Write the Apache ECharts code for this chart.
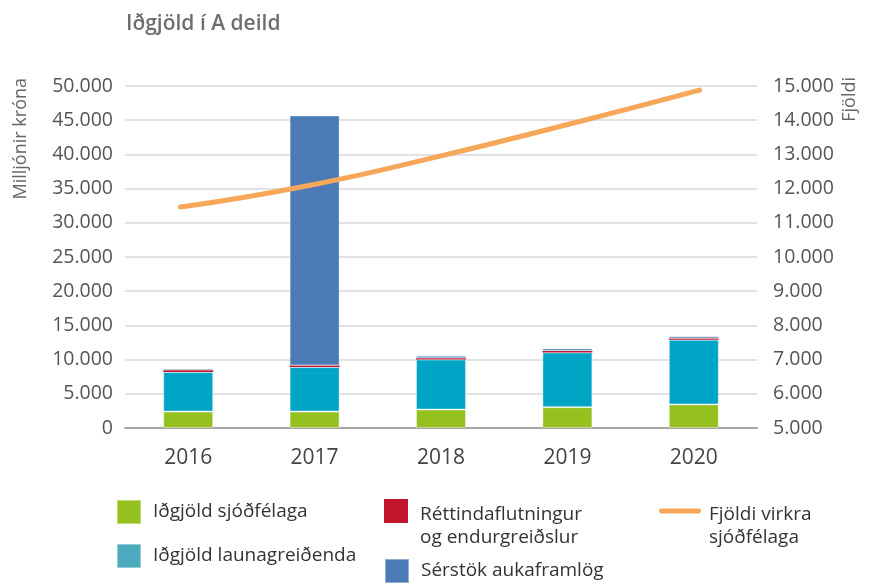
<!DOCTYPE html>
<html>
<head>
<meta charset="utf-8">
<script src="https://cdn.jsdelivr.net/npm/echarts@6/dist/echarts.min.js"></script>
<style>
  html, body { margin: 0; padding: 0; background: #fff; }
  #main { width: 871px; height: 583px; }
</style>
</head>
<body>
<div id="main"></div>
<script>
var years = ['2016', '2017', '2018', '2019', '2020'];
// milljónir króna
var sjodfelaga = [2400, 2400, 2700, 3050, 3450];
var launagreidenda = [5800, 6500, 7300, 8000, 9450];
var rettindaflutningur = [250, 250, 200, 200, 200];
var serstok = [250, 36550, 350, 370, 320];
// fjöldi virkra sjóðfélaga
var fjoldi = [11460, 12100, 12950, 13890, 14880];

var nameSjod = 'Iðgjöld sjóðfélaga';
var nameLaun = 'Iðgjöld launagreiðenda';
var nameRett = 'Réttindaflutningur\nog endurgreiðslur';
var nameSer = 'Sérstök aukaframlög';
var nameFj = 'Fjöldi virkra\nsjóðfélaga';

var font = 'Open Sans';

function dots(v) {
    return String(v).replace(/\B(?=(\d{3})+(?!\d))/g, '.');
}

var myChart = echarts.init(document.getElementById('main'));

var legendText = { fontFamily: font, fontSize: 19, color: '#333', lineHeight: 24, padding: [0, 0, 0, 7] };
var legendText2 = { fontFamily: font, fontSize: 19, color: '#333', lineHeight: 23, padding: [0, 0, 0, 7] };

// square at the top of a taller box so the two-line text starts level with it
var squareTop = 'path://M0,0H24V24H0Z M0,54L0.01,54';
var lineTop = 'path://M2.5,9H39.5A2.5,2.5,0,0,1,39.5,14H2.5A2.5,2.5,0,0,1,2.5,9Z M0,0L0.01,0 M0,54L0.01,54';

option = {
    title: {
        text: 'Iðgjöld í A deild',
        left: 121,
        top: 9,
        textStyle: { fontFamily: font, fontSize: 21, fontWeight: 600, color: '#6e6e6e' }
    },
    graphic: [
        {
            type: 'text', left: 12, top: 78, rotation: Math.PI / 2,
            style: { text: 'Milljónir króna', fontFamily: font, fontSize: 18, fill: '#666' }
        },
        {
            type: 'text', left: 841, top: 77, rotation: Math.PI / 2,
            style: { text: 'Fjöldi', fontFamily: font, fontSize: 18, fill: '#666' }
        }
    ],
    legend: [
        {
            left: 116, top: 499, orient: 'vertical', padding: 0, itemGap: 18,
            itemWidth: 24, itemHeight: 24, icon: 'rect',
            textStyle: legendText,
            data: [{ name: nameSjod }, { name: nameLaun, itemStyle: { color: '#4eabbf' } }]
        },
        {
            left: 384, top: 499, padding: 0,
            itemWidth: 24, itemHeight: 54, icon: squareTop,
            textStyle: legendText2,
            data: [nameRett]
        },
        {
            left: 384, top: 558, padding: 0,
            itemWidth: 24, itemHeight: 24, icon: 'rect',
            textStyle: legendText,
            data: [nameSer]
        },
        {
            left: 659, top: 499.5, padding: 0,
            itemWidth: 42, itemHeight: 54, icon: lineTop,
            textStyle: { fontFamily: font, fontSize: 19, color: '#333', lineHeight: 23, padding: [0, 0, 0, 3] },
            data: [nameFj]
        }
    ],
    grid: [
        { left: 125, right: 114, top: 86, bottom: 155 },
        { left: 115.6, right: 106.6, top: 86, bottom: 155 }
    ],
    xAxis: [
        {
            type: 'category',
            data: years,
            gridIndex: 0,
            axisTick: { show: false },
            axisLine: { lineStyle: { color: '#a6a6a6', width: 2 } },
            axisLabel: { margin: 20, fontFamily: font, fontSize: 21, color: '#444' }
        },
        {
            type: 'category',
            data: years,
            gridIndex: 1,
            show: false
        }
    ],
    yAxis: [
        {
            type: 'value', min: 0, max: 50000, interval: 5000, gridIndex: 0,
            axisLine: { show: false }, axisTick: { show: false },
            splitLine: { lineStyle: { color: '#d9d9d9', width: 1.5 } },
            axisLabel: { margin: 12, fontFamily: font, fontSize: 19.5, color: '#555', formatter: dots }
        },
        {
            type: 'value', min: 5000, max: 15000, interval: 1000, gridIndex: 1,
            position: 'right',
            axisLine: { show: false }, axisTick: { show: false },
            splitLine: { show: false },
            axisLabel: { margin: 8.6, fontFamily: font, fontSize: 19.5, color: '#555', formatter: dots }
        }
    ],
    series: [
        {
            name: nameSjod, type: 'bar', stack: 'a', barWidth: 50,
            itemStyle: { color: '#95c11f', borderColor: 'rgba(255,255,255,0.4)', borderWidth: 1 },
            data: sjodfelaga
        },
        {
            name: nameLaun, type: 'bar', stack: 'a',
            itemStyle: { color: '#00a5c6', borderColor: 'rgba(255,255,255,0.4)', borderWidth: 1 },
            data: launagreidenda
        },
        {
            name: nameRett, type: 'bar', stack: 'a',
            itemStyle: { color: '#c0152a' },
            data: rettindaflutningur
        },
        {
            name: nameSer, type: 'bar', stack: 'a',
            itemStyle: { color: '#4a7bb7', borderColor: 'rgba(255,255,255,0.4)', borderWidth: 1 },
            data: serstok
        },
        {
            name: nameFj, type: 'line', xAxisIndex: 1, yAxisIndex: 1, smooth: true,
            showSymbol: false,
            itemStyle: { color: '#f7a65a' },
            lineStyle: { color: '#f7a65a', width: 5, cap: 'round' },
            data: fjoldi
        }
    ]
};
myChart.setOption(option);
</script>
</body>
</html>
